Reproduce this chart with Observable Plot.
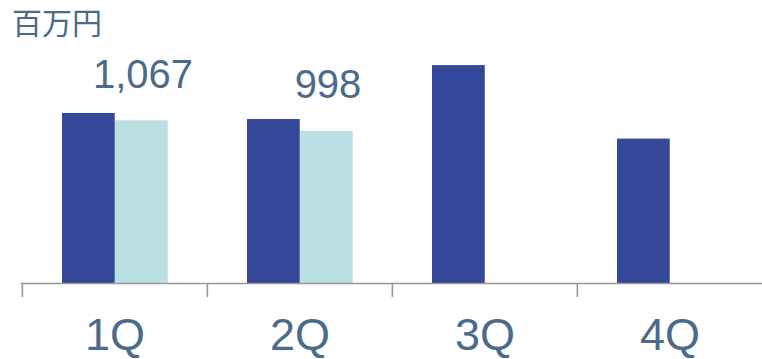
<!DOCTYPE html>
<html>
<head>
<meta charset="utf-8">
<script src="https://cdn.jsdelivr.net/npm/d3@7"></script>
<script src="https://cdn.jsdelivr.net/npm/@observablehq/plot@0.6"></script>
<style>
  html, body { margin: 0; padding: 0; background: #fff; }
  #wrap { position: relative; width: 762px; height: 359px; }
  #unit { position: absolute; left: 12px; top: 1px; font-family: "Noto Sans CJK JP", sans-serif; font-size: 30px; line-height: 40px; height: 40px; white-space: nowrap; color: #4a6b8a; }
</style>
</head>
<body>
<div id="wrap"><div id="unit">百万円</div></div>
<script>
const quarters = ["1Q", "2Q", "3Q", "4Q"];
const prevYear = [1115, 1075, 1429, 947];
const currYear = [1067, 998];

const prevData = quarters.map((q, i) => ({q, v: prevYear[i]}));
const currData = currYear.map((v, i) => ({q: quarters[i], v}));

const textColor = "#4a6b8a";
const dark = "#354798";
const light = "#bbe0e3";
const axisGray = "#999999";

const W = 762, mL = 21, mR = 0;
const step = (W - mL - mR) / quarters.length;

const chart = Plot.plot({
  width: W,
  height: 359,
  marginLeft: mL,
  marginRight: mR,
  marginTop: 39,
  marginBottom: 76,
  style: {fontFamily: "'Liberation Sans', Arial, sans-serif", background: "transparent", overflow: "visible"},
  x: {domain: quarters, padding: 0, axis: null, label: null},
  y: {domain: [0, 1600], axis: null},
  marks: [
    Plot.barY(prevData, {x: "q", y: "v", fill: dark, insetLeft: 40, insetRight: step - 93}),
    Plot.barY(currData, {x: "q", y: "v", fill: light, insetLeft: 93, insetRight: step - 146}),
    Plot.text(currData, {x: "q", y: "v", text: d => d3.format(",")(d.v), dx: 28, dy: -33, lineAnchor: "bottom", fontSize: 40, fill: textColor}),
    Plot.ruleY([0], {stroke: axisGray, strokeWidth: 1.6}),
    Plot.axisX({tickSize: 14, tickFormat: () => "", label: null, dx: -step / 2, stroke: axisGray, strokeWidth: 1.6}),
    Plot.axisX({tickSize: 0, tickPadding: 35, label: null, fontSize: 45, fill: textColor, color: textColor})
  ]
});
document.getElementById("wrap").appendChild(chart);
</script>
</body>
</html>
